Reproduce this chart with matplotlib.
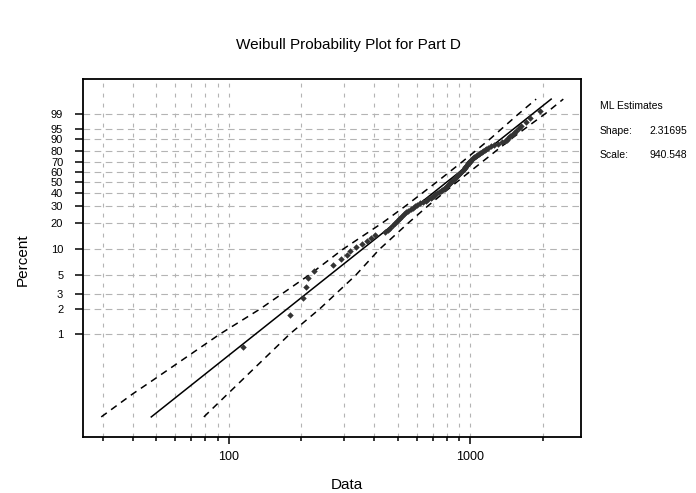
import numpy as np
import matplotlib
matplotlib.use("Agg")
import matplotlib.pyplot as plt
from matplotlib.ticker import NullFormatter, NullLocator

plt.rcParams['font.family'] = ['Liberation Sans', 'DejaVu Sans']

# ML estimates shown on the chart
shape = 2.31695
scale = 940.548

# failure data, sorted
data = [115, 179, 202, 208, 212, 226, 270, 292, 310, 318,
        335, 356, 372, 390, 405, 445, 455, 464, 478, 490,
        496, 505, 512, 520, 530, 542, 555, 566, 578, 590,
        605, 622, 640, 658, 672, 685, 696, 708, 718, 728,
        742, 756, 768, 778, 788, 797, 806, 815, 824, 832,
        840, 848, 856, 864, 872, 880, 888, 896, 904, 912,
        922, 930, 940, 948, 955, 962, 970, 976, 982, 988,
        994, 1000, 1012, 1025, 1040, 1055, 1070, 1085, 1100, 1115,
        1130, 1148, 1165, 1180, 1215, 1260, 1310, 1360, 1400, 1420,
        1440, 1460, 1490, 1520, 1550, 1590, 1625, 1700, 1775, 1950]

# 95% confidence bands (percent, data value)
upper_pct = [0.1, 0.19, 0.27, 1, 2, 5, 10, 20, 30, 50, 70, 90, 95, 99, 99.9]
upper_x = [29.6, 40, 47.8, 92, 135, 214, 296, 435, 542, 729, 926, 1214, 1345, 1591, 1877]
lower_pct = [0.1, 1, 2, 5, 10, 20, 30, 50, 70, 90, 95, 99, 99.9]
lower_x = [78.8, 179, 238, 335, 420, 557, 670, 883, 1121, 1484, 1675, 2048, 2432]

fit_pct = [0.1, 99.9]

ytick_vals = [1, 2, 3, 5, 10, 20, 30, 40, 50, 60, 70, 80, 90, 95, 99]
xtick_major = [100, 1000]
xtick_minor = [30, 40, 50, 60, 70, 80, 90, 200, 300, 400, 500, 600, 700, 800, 900, 2000]

# median ranks
n = len(data)
pct = (np.arange(1, n + 1) - 0.3) / (n + 0.4) * 100
fit_x = [scale * (-np.log(1 - p / 100)) ** (1 / shape) for p in fit_pct]


def fwd(p):
    p = np.clip(np.asarray(p, dtype=float), 1e-9, 100 - 1e-9)
    return np.log(-np.log(1 - p / 100))


def inv(w):
    return 100 * (1 - np.exp(-np.exp(w)))


fig = plt.figure(figsize=(6.96, 4.93), dpi=100)
ax = fig.add_axes([0.1188, 0.1142, 0.716, 0.7256])
ax.set_xscale('log')
ax.set_yscale('function', functions=(fwd, inv))

grid_kw = dict(color='#b4b4b4', linewidth=0.8)
ax.set_axisbelow(True)

ax.plot(fit_x, fit_pct, color='black', linewidth=1.1)
ax.plot(upper_x, upper_pct, color='black', linewidth=1.1, linestyle=(0, (4.5, 3.5)))
ax.plot(lower_x, lower_pct, color='black', linewidth=1.1, linestyle=(0, (4.5, 3.5)))
ax.plot(data, pct, linestyle='none', marker='D', markersize=3.3,
        color='#333333', markeredgewidth=0)

ax.set_xlim(24.8, 2880)
ax.set_ylim(0.0577, 99.99944)

ax.set_yticks(ytick_vals)
ax.set_yticklabels([str(v) for v in ytick_vals])
ax.yaxis.set_minor_locator(NullLocator())
ax.set_xticks(xtick_major)
ax.set_xticklabels(['100', '1000'])
ax.set_xticks(xtick_minor, minor=True)
ax.xaxis.set_minor_formatter(NullFormatter())

ax.grid(True, axis='y', which='major', linestyle=(0, (6, 4)), **grid_kw)
ax.grid(True, axis='x', which='both', linestyle=(0, (3.5, 5.5)), **grid_kw)

ax.tick_params(axis='y', which='major', direction='out', length=6, width=1.1,
               labelsize=8, pad=8)
ax.tick_params(axis='x', which='major', direction='out', length=5, width=1.1,
               labelsize=9, pad=5)
ax.tick_params(axis='x', which='minor', direction='out', length=3, width=1.1)
for s in ax.spines.values():
    s.set_linewidth(1.3)

ax.set_xlabel('Data', fontsize=11)
ax.xaxis.set_label_coords(0.53, -0.115)
ax.set_ylabel('Percent', fontsize=11)
ax.yaxis.set_label_coords(-0.106, 0.494)

fig.text(0.5, 1 - 45 / 493, 'Weibull Probability Plot for Part D',
         ha='center', va='center', fontsize=11)

fig.text(600 / 696, 1 - 106 / 493, 'ML Estimates', fontsize=7.5, va='center')
fig.text(600 / 696, 1 - 131 / 493, 'Shape:', fontsize=7.5, va='center')
fig.text(649 / 696, 1 - 131 / 493, f'{shape}', fontsize=7.5, va='center')
fig.text(600 / 696, 1 - 155 / 493, 'Scale:', fontsize=7.5, va='center')
fig.text(649 / 696, 1 - 155 / 493, f'{scale}', fontsize=7.5, va='center')

fig.savefig('out.png', dpi=100)
